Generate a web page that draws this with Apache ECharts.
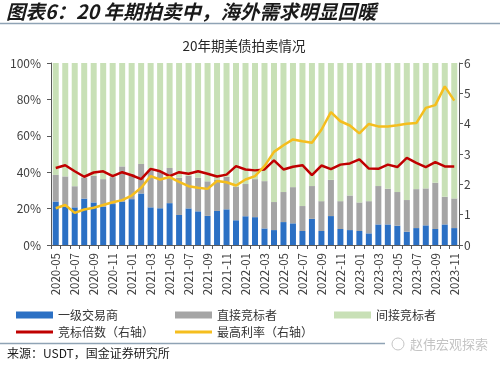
<!DOCTYPE html>
<html>
<head>
<meta charset="utf-8">
<script src="https://cdn.jsdelivr.net/npm/echarts@6/dist/echarts.min.js"></script>
<style>
html,body{margin:0;padding:0;background:#fff;}
#c{width:500px;height:369px;}
</style>
</head>
<body>
<div id="c"></div>
<script>
const categories = ['2020-05','2020-06','2020-07','2020-08','2020-09','2020-10','2020-11','2020-12',
'2021-01','2021-02','2021-03','2021-04','2021-05','2021-06','2021-07','2021-08','2021-09','2021-10','2021-11','2021-12',
'2022-01','2022-02','2022-03','2022-04','2022-05','2022-06','2022-07','2022-08','2022-09','2022-10','2022-11','2022-12',
'2023-01','2023-02','2023-03','2023-04','2023-05','2023-06','2023-07','2023-08','2023-09','2023-10','2023-11'];

const primaryDealers = [23.9,21.0,20.7,25.5,23.4,21.0,22.5,23.7,25.2,28.3,20.7,20.2,23.0,16.5,20.1,18.5,16.0,18.7,19.6,13.6,15.8,15.3,9.1,8.2,12.6,11.9,7.7,14.4,7.7,15.9,8.8,8.2,7.7,6.4,11.3,11.3,10.6,7.3,9.3,10.8,8.8,11.3,9.3];
const directBidders = [14.6,16.7,11.6,11.6,14.6,15.2,14.8,19.5,14.0,16.2,20.7,20.3,19.3,20.5,17.9,18.5,19.0,17.3,17.9,18.4,17.7,20.9,26.0,15.4,16.5,19.9,13.7,18.0,16.4,19.9,15.3,19.0,15.7,17.7,21.1,19.6,18.5,17.4,21.4,20.3,25.4,15.2,16.3];
const indirectBidders = [61.5,62.3,67.7,62.9,62.0,63.8,62.7,56.8,60.8,55.5,58.6,59.5,57.7,63.0,62.0,63.0,65.0,64.0,62.5,68.0,66.5,63.8,64.9,76.4,70.9,68.2,78.6,67.6,75.9,64.2,75.9,72.8,76.6,75.9,67.6,69.1,70.9,75.3,69.3,68.9,65.8,73.5,74.4];
const bidToCover = [2.54,2.63,2.43,2.25,2.39,2.43,2.27,2.40,2.30,2.17,2.51,2.43,2.27,2.40,2.35,2.43,2.35,2.26,2.32,2.60,2.49,2.46,2.49,2.79,2.49,2.58,2.63,2.30,2.62,2.50,2.65,2.69,2.82,2.52,2.51,2.65,2.57,2.87,2.71,2.57,2.73,2.59,2.59];
const highYield = [1.21,1.32,1.06,1.17,1.23,1.32,1.41,1.48,1.63,1.89,2.27,2.16,2.24,2.08,1.94,1.89,1.85,2.11,2.07,1.96,2.16,2.27,2.60,3.07,3.29,3.48,3.42,3.37,3.80,4.38,4.08,3.94,3.68,3.99,3.91,3.91,3.95,4.00,4.02,4.52,4.61,5.23,4.76];

const leftTicks = [0,20,40,60,80,100];
const rightTicks = [0,1,2,3,4,5,6];

const names = ['一级交易商','直接竞标者','间接竞标者','竞标倍数（右轴）','最高利率（右轴）'];
const colors = ['#2B70C4','#A5A5A5','#C8E0B6','#C00000','#F5BE1E'];

const FONT = '"Noto Sans CJK SC", "Noto Sans", sans-serif';
const chart = echarts.init(document.getElementById('c'), null, {renderer:'canvas'});

function legendAt(idx, left, top, isLine){
  return {
    data:[names[idx]], left:left, top:top, padding:0,
    itemWidth:37, itemHeight: isLine ? 3 : 7, icon:'rect',
    textStyle:{fontFamily:FONT, fontSize:12, color:'#333'}
  };
}

const option = {
  animation:false,
  textStyle:{fontFamily:FONT},
  grid:{left:51, right:41, top:63, bottom:124, containLabel:false},
  legend:[
    legendAt(0,16,309,false),
    legendAt(1,175,309,false),
    legendAt(2,334,309,false),
    legendAt(3,16,326,true),
    legendAt(4,175,326,true)
  ],
  xAxis:{
    type:'category', data:categories, boundaryGap:true,
    axisLine:{lineStyle:{color:'#595959', width:1}},
    axisTick:{show:true, interval:0, length:4, lineStyle:{color:'#595959'}},
    axisLabel:{interval:1, rotate:90, fontSize:11.5, color:'#404040', margin:8, fontFamily:FONT}
  },
  yAxis:[
    {type:'value', min:leftTicks[0], max:leftTicks[leftTicks.length-1], interval:20,
     axisLine:{show:true, lineStyle:{color:'#595959'}},
     axisTick:{show:true, length:4, lineStyle:{color:'#595959'}},
     splitLine:{show:false},
     axisLabel:{formatter:'{value}%', fontSize:12, color:'#404040', margin:10, fontFamily:FONT}},
    {type:'value', min:rightTicks[0], max:rightTicks[rightTicks.length-1], interval:1,
     axisLine:{show:true, lineStyle:{color:'#595959'}},
     axisTick:{show:true, length:4, lineStyle:{color:'#595959'}},
     splitLine:{show:false},
     axisLabel:{fontSize:12, color:'#404040', margin:5, fontFamily:FONT}}
  ],
  series:[
    {name:names[0], type:'bar', stack:'s', data:primaryDealers, barWidth:6, itemStyle:{color:colors[0]}},
    {name:names[1], type:'bar', stack:'s', data:directBidders, barWidth:6, itemStyle:{color:colors[1]}},
    {name:names[2], type:'bar', stack:'s', data:indirectBidders, barWidth:6, itemStyle:{color:colors[2]}},
    {name:names[3], type:'line', yAxisIndex:1, data:bidToCover, symbol:'none', z:5,
     lineStyle:{color:colors[3], width:2.5}, itemStyle:{color:colors[3]}},
    {name:names[4], type:'line', yAxisIndex:1, data:highYield, symbol:'none', z:5,
     lineStyle:{color:colors[4], width:2.5}, itemStyle:{color:colors[4]}}
  ],
  graphic:[
    {type:'text', left:6, top:2, style:{text:'图表6：20 年期拍卖中，海外需求明显回暖', fontFamily:FONT, fontSize:19.5, fontStyle:'italic', fontWeight:'bold', fill:'#1a1a1a'}},
    {type:'line', shape:{x1:0, y1:23.5, x2:500, y2:23.5}, style:{stroke:'#8FA3B5', lineWidth:1.5}},
    {type:'text', x:244, y:46, style:{text:'20年期美债拍卖情况', fontFamily:FONT, fontSize:13.5, fill:'#262626', align:'center', verticalAlign:'middle'}},
    {type:'line', shape:{x1:0, y1:343.5, x2:385, y2:343.5}, style:{stroke:'#8FA3B5', lineWidth:1.5}},
    {type:'text', x:7, y:353, style:{text:'来源：USDT，国金证券研究所', fontFamily:FONT, fontSize:12, fill:'#1a1a1a', verticalAlign:'middle'}},
    {type:'text', x:410, y:344, style:{text:'赵伟宏观探索', fontFamily:FONT, fontSize:13, fill:'#C4C4C4', verticalAlign:'middle'}},
    {type:'circle', shape:{cx:398, cy:344, r:6}, style:{fill:'none', stroke:'#C4C4C4', lineWidth:1}}
  ]
};
chart.setOption(option);
</script>
</body>
</html>
